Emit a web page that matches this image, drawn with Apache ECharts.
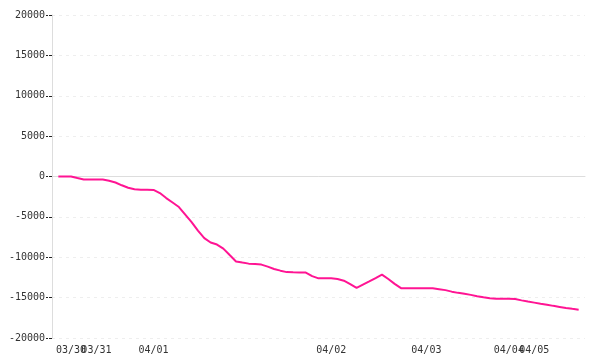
<!DOCTYPE html>
<html>
<head>
<meta charset="utf-8">
<script src="https://cdn.jsdelivr.net/npm/echarts@6/dist/echarts.min.js"></script>
<style>html,body{margin:0;padding:0;background:#fff}#c{width:600px;height:360px}</style>
</head>
<body>
<div id="c"></div>
<script>
// series values (one per evenly spaced category point)
var values = [
  0, 0, 0, -190, -370, -370, -370, -380, -520, -740,
  -1090, -1400, -1590, -1650, -1650, -1660, -2050, -2670, -3220, -3780,
  -4710, -5640, -6700, -7630, -8180, -8430, -8930, -9730, -10520, -10660,
  -10790, -10850, -10910, -11160, -11450, -11660, -11840, -11870, -11880, -11900,
  -12340, -12610, -12610, -12610, -12690, -12900, -13330, -13800, -13400, -13000,
  -12580, -12150, -12700, -13300, -13830, -13830, -13830, -13830, -13830, -13830,
  -13950, -14070, -14260, -14410, -14530, -14660, -14820, -14950, -15070, -15130,
  -15140, -15150, -15180, -15340, -15490, -15620, -15750, -15870, -16020, -16150,
  -16280, -16390, -16490
];
// date tick labels and the point index where each is shown
var tickLabels = ['03/30', '03/31', '04/01', '04/02', '04/03', '04/04', '04/05'];
var tickIndex = [2, 6, 15, 43, 58, 71, 75];
// y axis range
var yMin = -20000, yMax = 20000, yStep = 5000;

// pad one empty slot on each side so the line sits inside the plot
var seriesData = [null].concat(values, [null]);
var categories = seriesData.map(function (_, i) { return String(i); });
var labelAt = {};
tickIndex.forEach(function (idx, k) { labelAt[idx + 1] = tickLabels[k]; });

var font = 'DejaVu Sans Mono';
var chart = echarts.init(document.getElementById('c'), null, {renderer: 'canvas'});
chart.setOption({
  animation: false,
  backgroundColor: '#ffffff',
  grid: {left: 52, right: 15, top: 15, bottom: 22, containLabel: false},
  xAxis: [{
    type: 'category',
    data: categories,
    boundaryGap: false,
    position: 'bottom',
    axisLine: {show: false, onZero: false},
    axisTick: {show: false},
    splitLine: {show: false},
    axisLabel: {
      interval: 0,
      margin: 7,
      color: '#333',
      fontFamily: font,
      fontSize: 10,
      formatter: function (v, i) { return labelAt[i] || ''; }
    }
  }, {
    type: 'category',
    data: categories,
    boundaryGap: false,
    position: 'bottom',
    axisLine: {show: true, onZero: true, lineStyle: {color: '#dddddd', width: 1}},
    axisTick: {show: false},
    axisLabel: {show: false},
    splitLine: {show: false}
  }],
  yAxis: {
    type: 'value',
    min: yMin, max: yMax, interval: yStep,
    axisLine: {show: true, lineStyle: {color: '#dddddd', width: 1}},
    axisTick: {show: true, length: 6, lineStyle: {color: '#222', type: [3, 1]}},
    axisLabel: {
      margin: 7, color: '#333', fontFamily: font, fontSize: 10,
      formatter: function (v) { return String(v); }
    },
    splitLine: {show: true, lineStyle: {color: '#eeeeee', type: [3, 4]}}
  },
  series: [{
    type: 'line',
    xAxisIndex: 0,
    data: seriesData,
    showSymbol: false,
    symbol: 'none',
    lineStyle: {color: '#ff1493', width: 2},
    itemStyle: {color: '#ff1493'},
    z: 3
  }]
});
</script>
</body>
</html>
